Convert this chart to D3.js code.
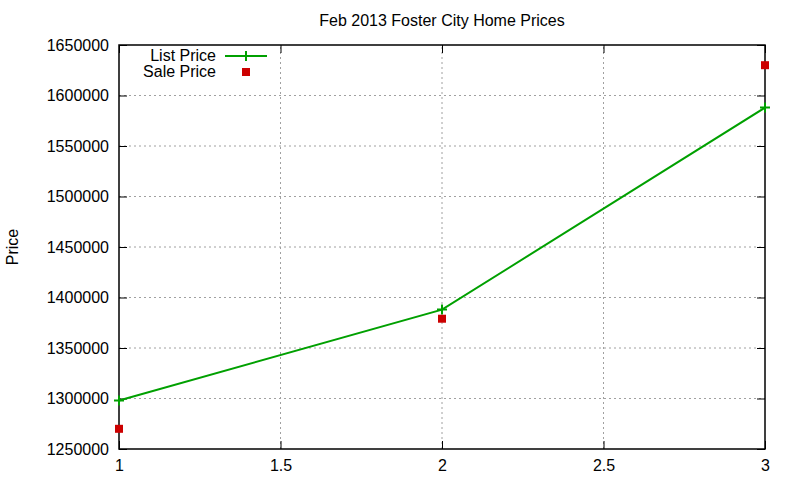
<!DOCTYPE html>
<html>
<head>
<meta charset="utf-8">
<script src="https://cdn.jsdelivr.net/npm/d3@7"></script>
<style>
  body { margin: 0; background: #fff; }
  text { font-family: "Liberation Sans", Arial, sans-serif; fill: #000; }
</style>
</head>
<body>
<div id="chart"></div>
<script>
// Data
const xs = [1, 2, 3];
const listPrice = [1298000, 1388000, 1588000];
const salePrice = [1270000, 1379000, 1630000];
const xTicks = [1, 1.5, 2, 2.5, 3];
const yTicks = [1250000, 1300000, 1350000, 1400000, 1450000, 1500000, 1550000, 1600000, 1650000];

const width = 800, height = 480;
const margin = { top: 45, right: 35, bottom: 31, left: 119 };

const svg = d3.select("#chart").append("svg")
    .attr("width", width)
    .attr("height", height);

const x = d3.scaleLinear().domain([1, 3]).range([margin.left, width - margin.right]);
const y = d3.scaleLinear().domain([1250000, 1650000]).range([height - margin.bottom, margin.top]);

// grid lines
svg.append("g").selectAll("line.gy")
    .data(yTicks.slice(1, -1))
    .enter().append("line")
    .attr("x1", x(1)).attr("x2", x(3))
    .attr("y1", d => y(d)).attr("y2", d => y(d))
    .attr("stroke", "#a0a0a0").attr("stroke-width", 1)
    .attr("stroke-dasharray", "2,3");

svg.append("g").selectAll("line.gx")
    .data(xTicks.slice(1, -1))
    .enter().append("line")
    .attr("y1", y(1250000)).attr("y2", y(1650000))
    .attr("x1", d => x(d)).attr("x2", d => x(d))
    .attr("stroke", "#a0a0a0").attr("stroke-width", 1)
    .attr("stroke-dasharray", "2,3");

// axes with inward ticks (gnuplot style, mirrored)
const fmt = d3.format("d");
svg.append("g")
    .attr("transform", `translate(0,${y(1250000)})`)
    .call(d3.axisBottom(x).tickValues(xTicks).tickSizeInner(-8).tickSizeOuter(0).tickPadding(11).tickFormat(d3.format("")))
    .call(g => g.select(".domain").remove());
svg.append("g")
    .attr("transform", `translate(0,${y(1650000)})`)
    .call(d3.axisTop(x).tickValues(xTicks).tickSizeInner(-8).tickSizeOuter(0).tickFormat(""))
    .call(g => g.select(".domain").remove());
svg.append("g")
    .attr("transform", `translate(${x(1)},0)`)
    .call(d3.axisLeft(y).tickValues(yTicks).tickSizeInner(-8).tickSizeOuter(0).tickPadding(10).tickFormat(fmt))
    .call(g => g.select(".domain").remove());
svg.append("g")
    .attr("transform", `translate(${x(3)},0)`)
    .call(d3.axisRight(y).tickValues(yTicks).tickSizeInner(-8).tickSizeOuter(0).tickFormat(""))
    .call(g => g.select(".domain").remove());

svg.selectAll(".tick text")
    .style("font-family", "'Liberation Sans', Arial, sans-serif")
    .style("font-size", "16px")
    .attr("fill", "#000");
svg.selectAll(".tick line").attr("stroke", "#000");

// frame
svg.append("rect")
    .attr("x", x(1)).attr("y", y(1650000))
    .attr("width", x(3) - x(1)).attr("height", y(1250000) - y(1650000))
    .attr("fill", "none").attr("stroke", "#000").attr("stroke-width", 1.5);

// list price line
const line = d3.line().x((d, i) => x(xs[i])).y(d => y(d));
svg.append("path")
    .datum(listPrice)
    .attr("d", line)
    .attr("fill", "none")
    .attr("stroke", "#00a000")
    .attr("stroke-width", 2);

const plus = (g, cx, cy, s) => g.append("path")
    .attr("d", `M${cx - s},${cy}H${cx + s}M${cx},${cy - s}V${cy + s}`)
    .attr("stroke", "#00a000").attr("stroke-width", 2).attr("fill", "none");

listPrice.forEach((v, i) => plus(svg, x(xs[i]), y(v), 5));

// sale price squares
svg.append("g").selectAll("rect")
    .data(salePrice)
    .enter().append("rect")
    .attr("x", (d, i) => x(xs[i]) - 4)
    .attr("y", d => y(d) - 4)
    .attr("width", 8).attr("height", 8)
    .attr("fill", "#cc0000");

// legend
svg.append("text").attr("x", 216).attr("y", 61)
    .attr("text-anchor", "end").style("font-size", "16px").text("List Price");
svg.append("line").attr("x1", 225).attr("x2", 267).attr("y1", 56).attr("y2", 56)
    .attr("stroke", "#00a000").attr("stroke-width", 2);
plus(svg, 246, 56, 5);
svg.append("text").attr("x", 216).attr("y", 77)
    .attr("text-anchor", "end").style("font-size", "16px").text("Sale Price");
svg.append("rect").attr("x", 242).attr("y", 68).attr("width", 8).attr("height", 8)
    .attr("fill", "#cc0000");

// title and y label
svg.append("text").attr("x", 442).attr("y", 26)
    .attr("text-anchor", "middle").style("font-size", "16px")
    .text("Feb 2013 Foster City Home Prices");
svg.append("text")
    .attr("transform", `translate(18,${(y(1250000) + y(1650000)) / 2}) rotate(-90)`)
    .attr("text-anchor", "middle").style("font-size", "16px")
    .text("Price");
</script>
</body>
</html>
